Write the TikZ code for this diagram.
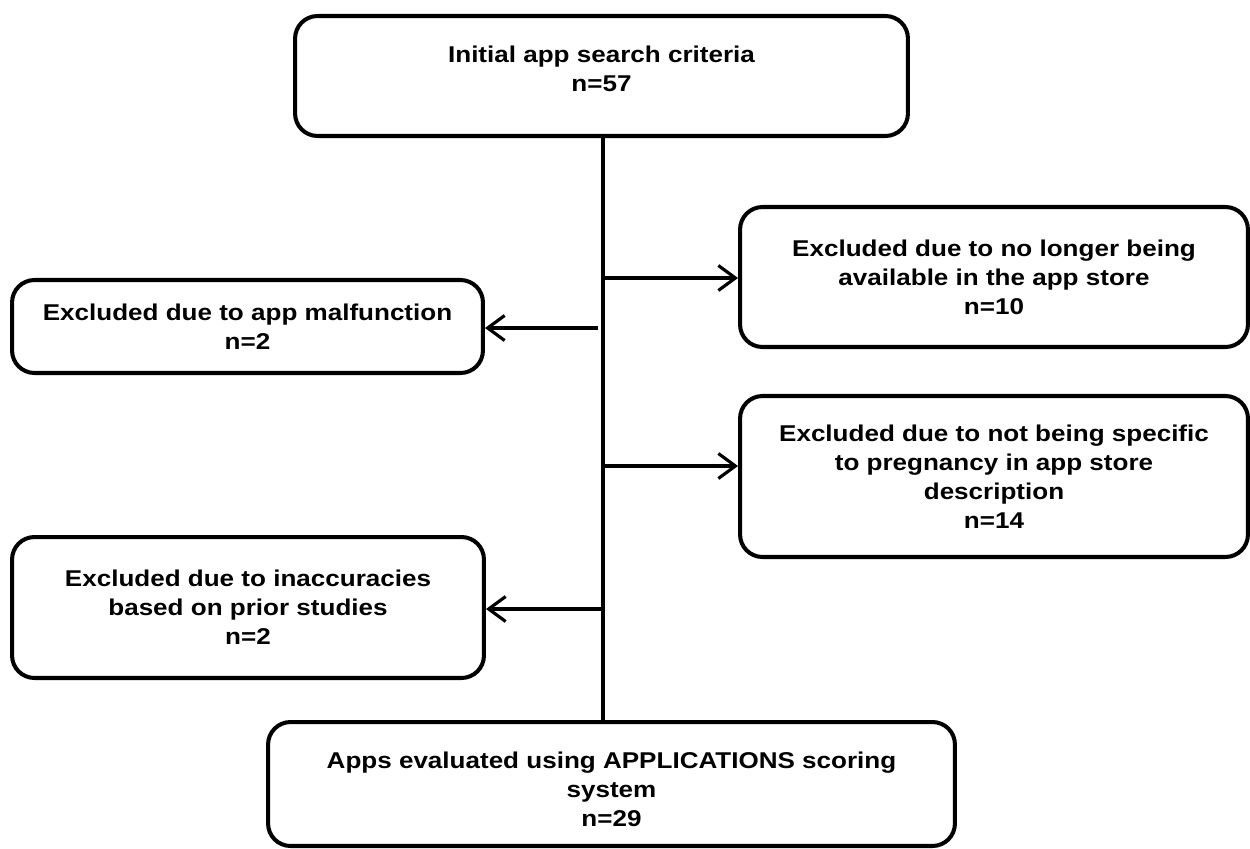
\documentclass[tikz,border=0pt]{standalone}
\usepackage{fontspec}
\setmainfont{Liberation Sans}[FakeStretch=1.14]
\usetikzlibrary{arrows.meta}

\tikzset{
  box/.style={draw, rounded corners=4.5mm, line width=2.3pt, align=center,
    inner sep=0pt, font=\bfseries\fontsize{13}{16.5}\selectfont},
  link/.style={line width=1.8pt}
}

\begin{document}
\begin{tikzpicture}[x=0.02cm, y=-0.02cm, >={Straight Barb[length=3.4mm, width=5mm]}]
    \useasboundingbox (0,0) rectangle (1250,848);
    % boxes
    \node[box, minimum width=12.26cm, minimum height=2.4cm, text depth=0.3cm] (start) at (601.5,76) {Initial app search criteria\\n=57};
    \node[box, minimum width=10.16cm, minimum height=2.8cm] (exA) at (994,277) {Excluded due to no longer being\\available in the app store\\n=10};
    \node[box, minimum width=9.42cm, minimum height=1.86cm] (exB) at (247.5,326.5) {Excluded due to app malfunction\\n=2};
    \node[box, minimum width=10.16cm, minimum height=3.22cm] (exC) at (994,476.5) {Excluded due to not being specific\\to pregnancy in app store\\description\\n=14};
    \node[box, minimum width=9.44cm, minimum height=2.82cm] (exD) at (248,607.5) {Excluded due to inaccuracies\\based on prior studies\\n=2};
    \node[box, minimum width=13.74cm, minimum height=2.48cm, text height=49pt] (final) at (611.5,784) {Apps evaluated using APPLICATIONS scoring\\system\\n=29};
    % trunk
    \coordinate (top) at (603,136);
    \coordinate (jA) at (603,278);
    \coordinate (jB) at (598,328);
    \coordinate (jC) at (603,466);
    \coordinate (jD) at (603,609);
    \draw[link] (top) -- (top |- final.north);
    \draw[link, ->] (jA) -- (jA -| exA.west);
    \draw[link, ->] (jB) -- (jB -| exB.east);
    \draw[link, ->] (jC) -- (jC -| exC.west);
    \draw[link, ->] (jD) -- (jD -| exD.east);
\end{tikzpicture}
\end{document}
